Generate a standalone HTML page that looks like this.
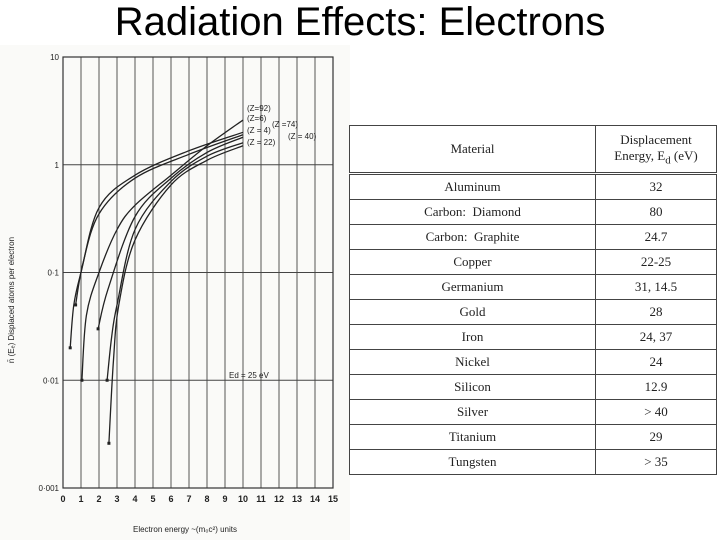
<!DOCTYPE html>
<html><head><meta charset="utf-8">
<style>
html,body{margin:0;padding:0;background:#fff;}
body{width:720px;height:540px;position:relative;overflow:hidden;font-family:"Liberation Sans",sans-serif;}
#title{position:absolute;left:0;width:720px;top:0px;text-align:center;font-size:40px;color:#000;}
#tbl{position:absolute;left:349px;top:125px;width:368px;border-collapse:collapse;font-family:"Liberation Serif",serif;font-size:13px;color:#222;}
#tbl td{border:1px solid #444;text-align:center;height:24px;padding:0;}
#tbl tr.h td{height:46px;border-bottom:3px double #444;}
</style></head><body>
<div id="title">Radiation Effects: Electrons</div>
<svg id="chart" width="350" height="540" style="position:absolute;left:0;top:0"></svg>
<table id="tbl">
<tr class="h"><td style="width:245px">Material</td><td>Displacement<br>Energy, E<sub>d</sub> (eV)</td></tr>
<tr><td>Aluminum</td><td>32</td></tr>
<tr><td>Carbon:&nbsp; Diamond</td><td>80</td></tr>
<tr><td>Carbon:&nbsp; Graphite</td><td>24.7</td></tr>
<tr><td>Copper</td><td>22-25</td></tr>
<tr><td>Germanium</td><td>31, 14.5</td></tr>
<tr><td>Gold</td><td>28</td></tr>
<tr><td>Iron</td><td>24, 37</td></tr>
<tr><td>Nickel</td><td>24</td></tr>
<tr><td>Silicon</td><td>12.9</td></tr>
<tr><td>Silver</td><td>&gt; 40</td></tr>
<tr><td>Titanium</td><td>29</td></tr>
<tr><td>Tungsten</td><td>&gt; 35</td></tr>
</table>
<script>
const xTicks=[0,1,2,3,4,5,6,7,8,9,10,11,12,13,14,15];
const yTicks=[10,1,0.1,0.01,0.001];
const yTickLabels=["10","1","0·1","0·01","0·001"];
const curveZ1=[[0.4,0.02],[0.6,0.05],[1,0.1],[2,0.4],[4,0.8],[7,1.35],[10,2.0]];
const curveZ2=[[0.7,0.05],[1.1,0.12],[2,0.35],[4,0.75],[7,1.25],[10,1.9]];
const curveZ3=[[1.05,0.01],[1.3,0.04],[2,0.1],[3,0.25],[4,0.42],[6,0.8],[8,1.5],[10,2.6]];
const curveZ4=[[1.95,0.03],[2.5,0.07],[4,0.33],[6,0.75],[8,1.3],[10,1.8]];
const curveZ5=[[2.45,0.01],[2.7,0.025],[3,0.05],[4,0.25],[6,0.7],[8,1.2],[10,1.6]];
const curveZ6=[[2.55,0.0026],[2.8,0.015],[3.1,0.05],[4,0.2],[6,0.65],[8,1.1],[10,1.5]];
const curveLabels=["(Z=92)","(Z=6)","(Z =74)","(Z = 4)","(Z = 40)","(Z = 22)"];
const X0=63,X1=333,Y0=57,Y1=488;
function xs(v){return X0+(X1-X0)*v/15;}
function ys(v){return Y1-(Y1-Y0)*(Math.log10(v)+3)/4;}
const svg=document.getElementById('chart');
const NS='http://www.w3.org/2000/svg';
function mk(t,a,p){const e=document.createElementNS(NS,t);for(const k in a)e.setAttribute(k,a[k]);(p||svg).appendChild(e);return e;}
const bg=mk('rect',{x:0,y:45,width:350,height:495,fill:'#fafaf8'});


xTicks.forEach(v=>{const l=mk('line',{x1:xs(v),x2:xs(v),y1:Y0,y2:Y1,stroke:'#555','stroke-width':1});


const t=mk('text',{x:xs(v),y:Y1+14,'font-size':9,'text-anchor':'middle','font-weight':'bold',fill:'#222'});t.textContent=v;

});
yTicks.forEach((v,i)=>{const l=mk('line',{x1:X0,x2:X1,y1:ys(v),y2:ys(v),stroke:'#444','stroke-width':1});


const t=mk('text',{x:X0-4,y:ys(v)+3,'font-size':8,'text-anchor':'end',fill:'#222'});t.textContent=yTickLabels[i];

});
const fr=mk('rect',{x:X0,y:Y0,width:X1-X0,height:Y1-Y0,fill:'none',stroke:'#333','stroke-width':1.2});


function spline(pts){const p=pts.map(d=>[xs(d[0]),ys(d[1])]);let s='M'+p[0][0]+','+p[0][1];
for(let i=0;i<p.length-1;i++){const a=p[i-1]||p[i],b=p[i],c=p[i+1],d=p[i+2]||c;
s+=' C'+(b[0]+(c[0]-a[0])/6)+','+(b[1]+(c[1]-a[1])/6)+' '+(c[0]-(d[0]-b[0])/6)+','+(c[1]-(d[1]-b[1])/6)+' '+c[0]+','+c[1];}return s;}
[curveZ1,curveZ2,curveZ3,curveZ4,curveZ5,curveZ6].forEach((c,i)=>{
const p=mk('path',{d:spline(c),fill:'none',stroke:'#222','stroke-width':1.3});


const m=mk('rect',{x:xs(c[0][0])-1.5,y:ys(c[0][1])-1.5,width:3,height:3,fill:'#222'});

});
const ly=[108,118,124,130,136,142],lx=[247,247,272,247,288,247];
curveLabels.forEach((s,i)=>{const t=mk('text',{x:lx[i],y:ly[i]+3,'font-size':8,fill:'#222'});t.textContent=s;

});
const ed=mk('text',{x:229,y:378,'font-size':8,fill:'#222'});ed.textContent='Ed  = 25 eV';


const yt=mk('text',{x:0,y:0,'font-size':8,'text-anchor':'middle',fill:'#222',transform:'translate(14,300) rotate(-90)'});yt.textContent='n̄ (Eₑ)  Displaced atoms per electron';


const xt=mk('text',{x:185,y:532,'font-size':8,'text-anchor':'middle',fill:'#222'});xt.textContent='Electron energy ~(m₀c²) units';


</script>
</body></html>
